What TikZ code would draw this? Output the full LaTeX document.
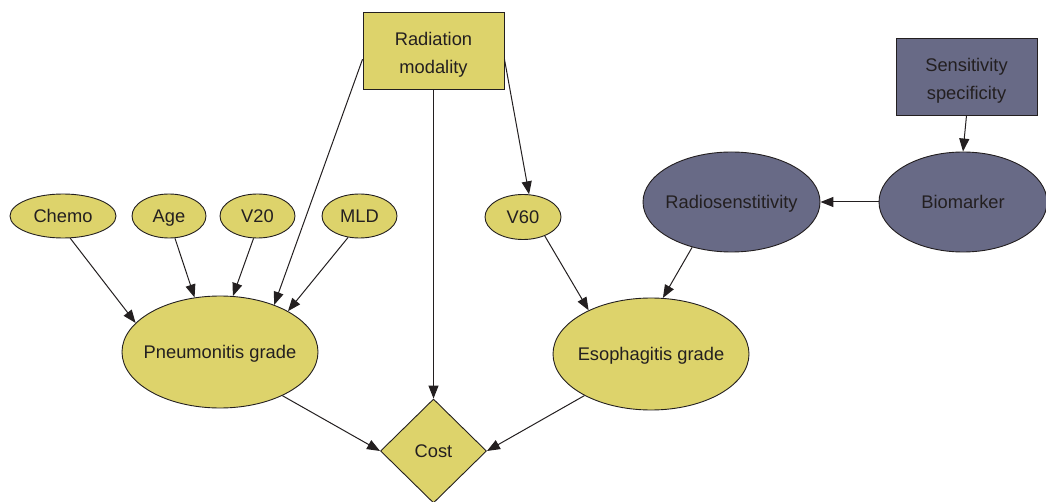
\documentclass[tikz,border=0pt]{standalone}
\usepackage{fontspec}
\setmainfont{Liberation Sans}
\usetikzlibrary{shapes.geometric,arrows.meta}
\definecolor{yel}{HTML}{DDD36B}
\definecolor{pur}{HTML}{686A86}
\definecolor{txt}{HTML}{231F20}
\tikzset{
  base/.style={draw=txt, line width=0.9pt, text=txt, inner sep=0pt, font=\fontsize{18.3}{28.5}\selectfont},
  yell/.style={base, ellipse, fill=yel, text height=13.1pt, text depth=0pt},
  purell/.style={base, ellipse, fill=pur, text height=13.1pt, text depth=0pt},
  ybox/.style={base, rectangle, fill=yel, minimum width=141pt, minimum height=77pt, align=center},
  pbox/.style={base, rectangle, fill=pur, minimum width=141pt, minimum height=77pt, align=center},
  costdia/.style={base, diamond, fill=yel, minimum width=106pt, minimum height=104pt, text height=13.1pt, text depth=0pt},
  conn/.style={draw=txt, line width=1pt, -{Triangle[length=13pt,width=10pt]}}
}
\newcommand{\zw}[1]{\makebox[0pt]{#1}}
\newcommand{\tstrut}{\rule{0pt}{21.5pt}}
\begin{document}
\begin{tikzpicture}[x=1pt, y=-1pt]
\useasboundingbox (0,0) rectangle (1046,502);
\node[ybox] (RM) at (433.5,50.5) {\tstrut Radiation\\modality};
\node[pbox] (SS) at (966.5,76.5) {\tstrut Sensitivity\\specificity};
\node[purell, minimum width=168pt, minimum height=100pt] (BM) at (963,202) {\zw{Biomarker}};
\node[purell, minimum width=177pt, minimum height=100pt] (RS) at (731.5,202) {\zw{Radiosenstitivity}};
\node[yell, minimum width=106pt, minimum height=44pt] (CH) at (63,216) {\zw{Chemo}};
\node[yell, minimum width=74pt, minimum height=44pt] (AG) at (169,216) {\zw{Age}};
\node[yell, minimum width=75pt, minimum height=44pt] (V20) at (257.5,216) {\zw{V20}};
\node[yell, minimum width=75pt, minimum height=44pt] (MLD) at (359.5,216) {\zw{MLD}};
\node[yell, minimum width=76pt, minimum height=45pt] (V60) at (523,217) {\zw{V60}};
\node[yell, minimum width=196pt, minimum height=112pt] (PG) at (220,352) {\zw{Pneumonitis grade}};
\node[yell, minimum width=196pt, minimum height=112pt] (EG) at (651,354) {\zw{Esophagitis grade}};
\node[costdia] (C) at (433.5,451) {\zw{Cost}};

\draw[conn] (RM.187.7) -- (PG.41);
\draw[conn] (RM.south) -- (C.north);
\draw[conn] (RM.-7.6) -- (V60.75);
\draw[conn] (CH.-72) -- (PG.161);
\draw[conn] (AG.-75) -- (PG.115);
\draw[conn] (V20.-100) -- (PG.77);
\draw[conn] (MLD.-118) -- (PG.31);
\draw[conn] (PG.-35) -- (C.west);
\draw[conn] (V60.-41) -- (EG.145);
\draw[conn] (RS.-131) -- (EG.78);
\draw[conn] (EG.212) -- (C.east);
\draw[conn] (BM.west) -- (RS.east);
\draw[conn] (SS.south) -- (BM.north);
\end{tikzpicture}
\end{document}
